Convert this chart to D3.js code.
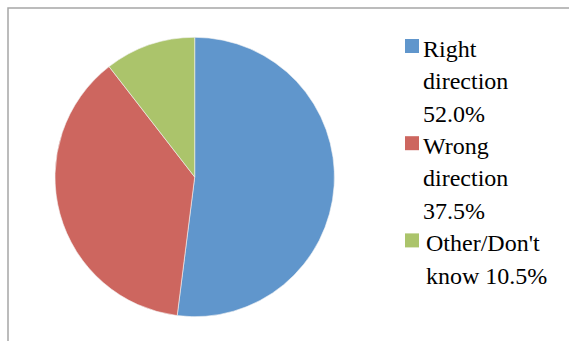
<!DOCTYPE html>
<html><head><meta charset="utf-8"><script src="https://cdn.jsdelivr.net/npm/d3@7"></script>
<style>
  body { margin: 0; background: #fff; }
  #wrap { position: relative; width: 569px; height: 341px; overflow: hidden; }
  #chart { position: absolute; left: 0; top: 0; }
  .legend-label {
    position: absolute;
    font-family: "Liberation Serif", Tinos, "Times New Roman";
    font-size: 24px;
    line-height: 32.4px;
    color: #000;
    white-space: nowrap;
  }
</style>
</head>
<body>
<div id="wrap"><svg id="chart" width="569" height="341"></svg></div>
<script>
// Survey answers: share of respondents per answer
const categories = ["Right direction", "Wrong direction", "Other/Don't know"];
const values = [52.0, 37.5, 10.5];
const labelLines = [
  ["Right", "direction", "52.0%"],
  ["Wrong", "direction", "37.5%"],
  ["Other/Don't", "know 10.5%"]
];
const colors = ["#6096CC", "#CD665F", "#ABC46B"];

const svg = d3.select("#chart");

// Chart area frame (runs off the right and bottom edges)
svg.append("rect")
  .attr("x", 8).attr("y", 8)
  .attr("width", 600).attr("height", 400)
  .attr("fill", "#fff")
  .attr("stroke", "#a6a6a6")
  .attr("stroke-width", 1.5);

const cx = 194.7, cy = 177, r = 139.7;

const pie = d3.pie().sort(null).value(d => d)
  .startAngle(0).endAngle(2 * Math.PI);
const arc = d3.arc().innerRadius(0).outerRadius(r);
const color = d3.scaleOrdinal().domain(categories).range(colors);

svg.append("g")
  .attr("transform", `translate(${cx},${cy})`)
  .selectAll("path")
  .data(pie(values))
  .join("path")
  .attr("d", arc)
  .attr("fill", (d, i) => color(categories[i]))
  .attr("stroke", "#f4f4f4")
  .attr("stroke-width", 0.6);

// Legend: swatch in the SVG, wrapped label as HTML text on top
const lineH = 32.4;
const legendTop = 57;          // baseline of the first label line
const baselineInBox = 24.3;    // baseline offset inside a 32.4px line box
const wrap = d3.select("#wrap");

let row = 0;
labelLines.forEach((lines, i) => {
  const baseY = legendTop + row * lineH;
  const tx = i === 2 ? 426 : 423;
  svg.append("rect")
    .attr("x", 405).attr("y", baseY - 18)
    .attr("width", 14).attr("height", 14)
    .attr("fill", color(categories[i]));
  const label = wrap.append("div")
    .attr("class", "legend-label")
    .style("left", tx + "px")
    .style("top", (baseY - baselineInBox) + "px");
  label.selectAll("div")
    .data(lines)
    .join("div")
    .text(d => d);
  row += lines.length;
});
</script></body></html>
